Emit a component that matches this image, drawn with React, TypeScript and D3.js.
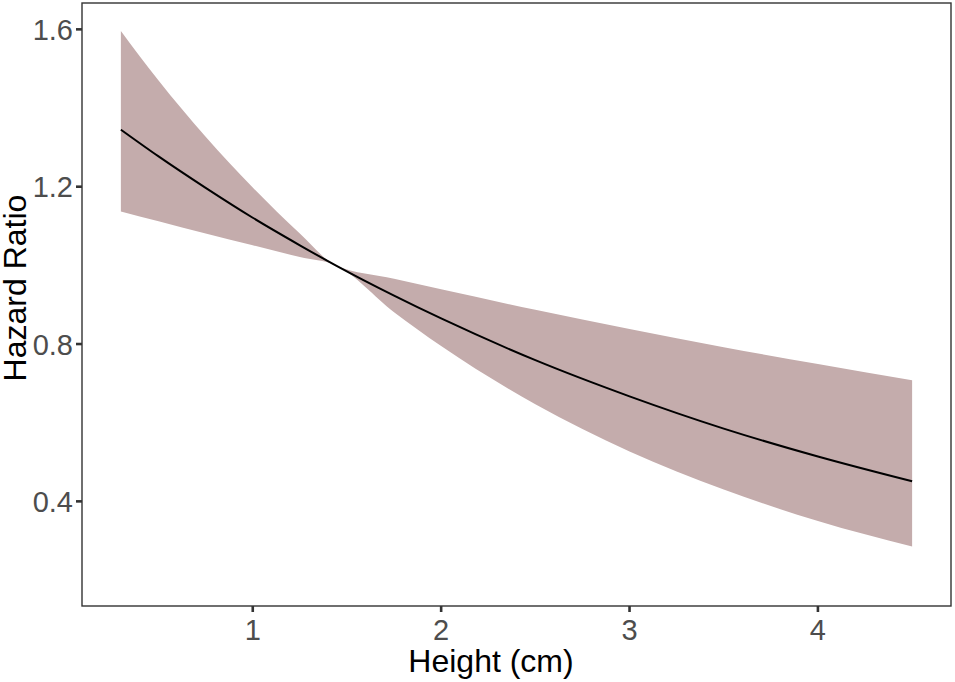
import { useEffect, useRef } from 'react';
import * as d3 from 'd3';

// values
const heights = [0.3, 0.5, 0.75, 1.0, 1.25, 1.44, 1.75, 2.0, 2.5, 3.0, 3.5, 4.0, 4.5];
const hazard = [1.345, 1.277, 1.197, 1.121, 1.051, 1.0, 0.923, 0.865, 0.759, 0.667, 0.585, 0.514, 0.451];
const upper = [1.596, 1.47, 1.327, 1.198, 1.081, 1.0, 0.966, 0.939, 0.887, 0.838, 0.792, 0.749, 0.708];
const lower = [1.137, 1.112, 1.081, 1.051, 1.021, 1.0, 0.881, 0.795, 0.647, 0.527, 0.43, 0.35, 0.285];
const xTicks = [1, 2, 3, 4];
const yTicks = [0.4, 0.8, 1.2, 1.6];

export default function App() {
  const svgRef = useRef<SVGSVGElement>(null);

  useEffect(() => {
    if (!svgRef.current) return;
    const svg = d3.select(svgRef.current);
    svg.selectAll('*').remove();

    const panel = { left: 82, right: 951, top: 3, bottom: 606 };

    const xScale = d3.scaleLinear()
      .domain([0.0936, 4.7064])
      .range([panel.left, panel.right]);
    const yScale = d3.scaleLinear()
      .domain([0.134, 1.667])
      .range([panel.bottom, panel.top]);

    const rows = heights.map((h, i) => ({ h, hr: hazard[i], up: upper[i], lo: lower[i] }));

    // confidence band
    const band = d3.area<typeof rows[0]>()
      .x(d => xScale(d.h))
      .y0(d => yScale(d.lo))
      .y1(d => yScale(d.up))
      .curve(d3.curveMonotoneX);

    svg.append('path')
      .datum(rows)
      .attr('d', band)
      .attr('fill', '#c4acac');

    const line = d3.line<typeof rows[0]>()
      .x(d => xScale(d.h))
      .y(d => yScale(d.hr))
      .curve(d3.curveMonotoneX);

    svg.append('path')
      .datum(rows)
      .attr('d', line)
      .attr('fill', 'none')
      .attr('stroke', '#000')
      .attr('stroke-width', 2);

    // panel border
    svg.append('rect')
      .attr('x', panel.left)
      .attr('y', panel.top)
      .attr('width', panel.right - panel.left)
      .attr('height', panel.bottom - panel.top)
      .attr('fill', 'none')
      .attr('stroke', '#333')
      .attr('stroke-width', 1.4);

    const font = 'Liberation Sans, Arial, sans-serif';

    // x axis
    const xAxis = svg.append('g');
    xAxis.selectAll('line')
      .data(xTicks)
      .enter()
      .append('line')
      .attr('x1', d => xScale(d))
      .attr('x2', d => xScale(d))
      .attr('y1', panel.bottom)
      .attr('y2', panel.bottom + 6)
      .attr('stroke', '#333')
      .attr('stroke-width', 2.6);
    xAxis.selectAll('text')
      .data(xTicks)
      .enter()
      .append('text')
      .attr('x', d => xScale(d))
      .attr('y', 640)
      .attr('text-anchor', 'middle')
      .attr('font-family', font)
      .attr('font-size', 29)
      .attr('fill', '#4d4d4d')
      .text(d => d);

    // y axis
    const yAxis = svg.append('g');
    yAxis.selectAll('line')
      .data(yTicks)
      .enter()
      .append('line')
      .attr('x1', panel.left - 6)
      .attr('x2', panel.left)
      .attr('y1', d => yScale(d))
      .attr('y2', d => yScale(d))
      .attr('stroke', '#333')
      .attr('stroke-width', 2.6);
    yAxis.selectAll('text')
      .data(yTicks)
      .enter()
      .append('text')
      .attr('x', 73)
      .attr('y', d => yScale(d) + 10.5)
      .attr('text-anchor', 'end')
      .attr('font-family', font)
      .attr('font-size', 29)
      .attr('fill', '#4d4d4d')
      .text(d => d.toFixed(1));

    // axis titles
    svg.append('text')
      .attr('x', 491)
      .attr('y', 672)
      .attr('text-anchor', 'middle')
      .attr('font-family', font)
      .attr('font-size', 32)
      .attr('fill', '#000')
      .text('Height (cm)');

    svg.append('text')
      .attr('transform', 'translate(26,288) rotate(-90)')
      .attr('text-anchor', 'middle')
      .attr('font-family', font)
      .attr('font-size', 32)
      .attr('fill', '#000')
      .text('Hazard Ratio');
  }, []);

  return (
    <svg
      ref={svgRef}
      width={955}
      height={682}
      style={{ position: 'absolute', left: 0, top: 0, display: 'block', background: '#fff' }}
    />
  );
}
